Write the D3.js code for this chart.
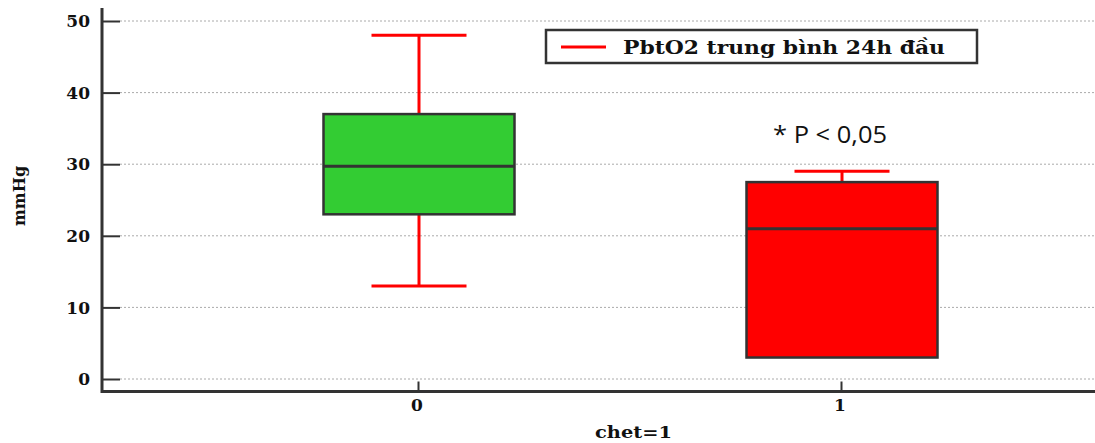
<!DOCTYPE html>
<html><head><meta charset="utf-8">
<script src="https://cdn.jsdelivr.net/npm/d3@7"></script>
<style>body{margin:0;background:#fff;}svg{display:block;}</style>
</head><body>
<svg id="c" width="1095" height="443"></svg>
<script>
const categories = ["0", "1"];
const whiskerLow = [13, 3];
const q1 = [23, 3];
const medians = [29.7, 21];
const q3 = [37, 27.5];
const whiskerHigh = [48, 29];
const boxColors = ["#33cc33", "#ff0000"];
const yTicks = [0, 10, 20, 30, 40, 50];
const legendLabel = "PbtO2 trung bình 24h đầu";
const annotation = "* P < 0,05";

const svg = d3.select("#c");
const W = 1095, H = 443;
const x0 = 102, yBase = 391.5;
const y = d3.scaleLinear().domain([0, 50]).range([379, 21]);
const x = d3.scaleLinear().domain([0, 1]).range([418, 841]);
const serif = "'DejaVu Serif', 'Liberation Serif', serif";

// gridlines
svg.append("g").selectAll("line").data(yTicks).join("line")
  .attr("x1", 120).attr("x2", W).attr("y1", d => y(d)).attr("y2", d => y(d))
  .attr("stroke", "#aaa").attr("stroke-width", 1).attr("stroke-dasharray", "2,2");

// y axis
const yAxis = d3.axisRight(y).tickValues(yTicks).tickSize(18).tickFormat("");
const gy = svg.append("g").attr("transform", `translate(${x0},0)`).call(yAxis);
gy.select(".domain").remove();
gy.selectAll(".tick line").attr("stroke", "#333").attr("stroke-width", 2);
svg.append("line").attr("x1", x0).attr("x2", x0).attr("y1", 8).attr("y2", yBase + 1.5)
  .attr("stroke", "#333").attr("stroke-width", 3);
svg.append("g").selectAll("text").data(yTicks).join("text")
  .attr("x", 90).attr("y", d => y(d)).attr("dy", "0.36em").attr("text-anchor", "end")
  .attr("font-family", serif).attr("font-weight", "bold").attr("font-size", 17).attr("fill", "#111")
  .text(d => d);

// x axis
const xAxis = d3.axisTop(x).tickValues([0, 1]).tickSize(10).tickFormat("");
const gx = svg.append("g").attr("transform", `translate(0,${yBase})`).call(xAxis);
gx.select(".domain").remove();
gx.selectAll(".tick line").attr("stroke", "#333").attr("stroke-width", 2);
svg.append("line").attr("x1", x0).attr("x2", W).attr("y1", yBase).attr("y2", yBase)
  .attr("stroke", "#333").attr("stroke-width", 3);
svg.append("g").selectAll("text").data(categories).join("text")
  .attr("x", (d, i) => x(i) - 1).attr("y", 411).attr("text-anchor", "middle")
  .attr("font-family", serif).attr("font-weight", "bold").attr("font-size", 17).attr("fill", "#111")
  .text(d => d);

// axis titles
svg.append("text").attr("x", 595).attr("y", 438)
  .attr("font-family", serif).attr("font-weight", "bold").attr("font-size", 17).attr("fill", "#111")
  .attr("textLength", 77).attr("lengthAdjust", "spacingAndGlyphs")
  .text("chet=1");
svg.append("text").attr("transform", "translate(25,196) rotate(-90)").attr("text-anchor", "middle")
  .attr("font-family", serif).attr("font-weight", "bold").attr("font-size", 16).attr("fill", "#111")
  .text("mmHg");

// boxes
const boxW = 191, capW = 95;
categories.forEach((c, i) => {
  const cx = x(i) + 1;
  const g = svg.append("g");
  g.append("line").attr("x1", cx).attr("x2", cx).attr("y1", y(whiskerHigh[i])).attr("y2", y(q3[i]))
    .attr("stroke", "#ff0000").attr("stroke-width", 3);
  g.append("line").attr("x1", cx).attr("x2", cx).attr("y1", y(q1[i])).attr("y2", y(whiskerLow[i]))
    .attr("stroke", "#ff0000").attr("stroke-width", 3);
  g.append("line").attr("x1", cx - capW / 2).attr("x2", cx + capW / 2)
    .attr("y1", y(whiskerHigh[i])).attr("y2", y(whiskerHigh[i]))
    .attr("stroke", "#ff0000").attr("stroke-width", 3);
  if (whiskerLow[i] < q1[i]) {
    g.append("line").attr("x1", cx - capW / 2).attr("x2", cx + capW / 2)
      .attr("y1", y(whiskerLow[i])).attr("y2", y(whiskerLow[i]))
      .attr("stroke", "#ff0000").attr("stroke-width", 3);
  }
  g.append("rect").attr("x", cx - boxW / 2).attr("width", boxW)
    .attr("y", y(q3[i])).attr("height", y(q1[i]) - y(q3[i]))
    .attr("fill", boxColors[i]).attr("stroke", "#333").attr("stroke-width", 2.5);
  g.append("line").attr("x1", cx - boxW / 2).attr("x2", cx + boxW / 2)
    .attr("y1", y(medians[i])).attr("y2", y(medians[i]))
    .attr("stroke", "#333").attr("stroke-width", 3);
});

// legend
const lg = svg.append("g");
lg.append("rect").attr("x", 546).attr("y", 30).attr("width", 431).attr("height", 33)
  .attr("fill", "#fff").attr("stroke", "#333").attr("stroke-width", 2.5);
lg.append("line").attr("x1", 561).attr("x2", 606).attr("y1", 47).attr("y2", 47)
  .attr("stroke", "#ff0000").attr("stroke-width", 3);
lg.append("text").attr("x", 623).attr("y", 53.5)
  .attr("font-family", serif).attr("font-weight", "bold").attr("font-size", 18).attr("fill", "#111")
  .attr("textLength", 322).attr("lengthAdjust", "spacingAndGlyphs")
  .text(legendLabel);

// annotation
svg.append("text").attr("x", 773).attr("y", 143)
  .attr("font-family", "'Open Sans', 'Liberation Sans', sans-serif").attr("font-size", 24).attr("fill", "#111")
  .attr("textLength", 114).attr("lengthAdjust", "spacingAndGlyphs")
  .text(annotation);
</script>
</body></html>
